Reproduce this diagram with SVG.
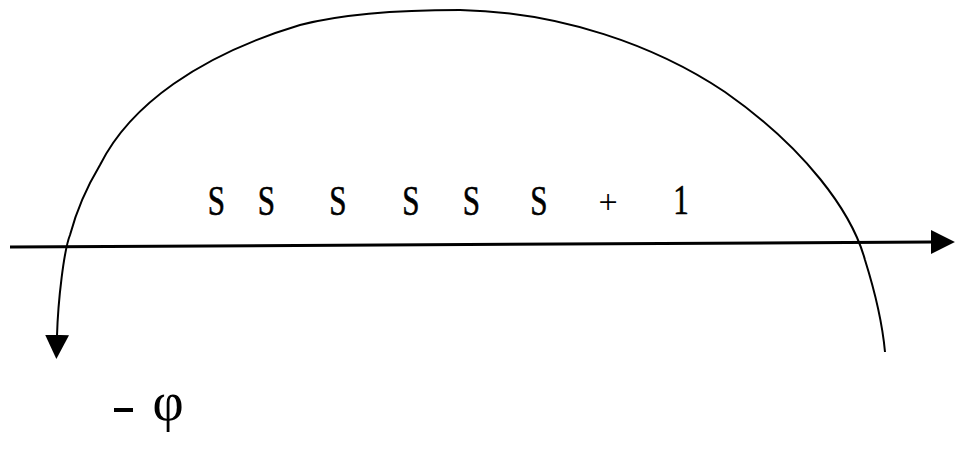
<svg xmlns="http://www.w3.org/2000/svg" width="955" height="450" viewBox="0 0 955 450">
<style>
.t{font-family:"Liberation Serif","Times New Roman",serif;font-size:42px;fill:#000;stroke:#000;stroke-width:0.6;text-anchor:middle}
.p{font-family:"Liberation Serif","Times New Roman",serif;font-size:34px;fill:#000;text-anchor:middle}
.ln{fill:none;stroke:#000}
</style>
<defs>
<marker id="ah" markerUnits="userSpaceOnUse" markerWidth="24" markerHeight="24" viewBox="0 0 22 22" refX="1" refY="11" orient="auto-start-reverse">
<path d="M0,0 L22,11 L0,22 z" fill="#000"/>
</marker>
</defs>
<rect width="955" height="450" fill="#fff"/>
<g id="connectors">
<path id="axis" class="ln" stroke-width="3" d="M10,247 L932,242" marker-end="url(#ah)"/>
<path id="arc" class="ln" stroke-width="2" d="M57,336 C58,300 64,250 70,235 C78,205 88,185 100,165 C130,105 200,55 300,25 C350,12 420,10 460,10 C560,12 655,45 725,92 C805,148 852,212 865,260 C876,295 883,330 885,352" marker-start="url(#ah)"/>
</g>
<g id="label-s">
<text class="t" transform="translate(216.5,215) scale(0.74,1)">S</text>
<text class="t" transform="translate(266.5,215) scale(0.74,1)">S</text>
<text class="t" transform="translate(338,215) scale(0.74,1)">S</text>
<text class="t" transform="translate(411,215) scale(0.74,1)">S</text>
<text class="t" transform="translate(471.5,215) scale(0.74,1)">S</text>
<text class="t" transform="translate(539,215) scale(0.74,1)">S</text>
<text class="p" x="608" y="213">+</text>
<text class="t" transform="translate(681,214) scale(0.74,1)">1</text>
</g>
<g id="label-phi">
<rect x="114" y="408" width="19" height="4" fill="#000"/>
<text x="168" y="420" style="font-family:'Liberation Serif','Times New Roman',serif;font-size:54px;text-anchor:middle">φ</text>
</g>
</svg>
